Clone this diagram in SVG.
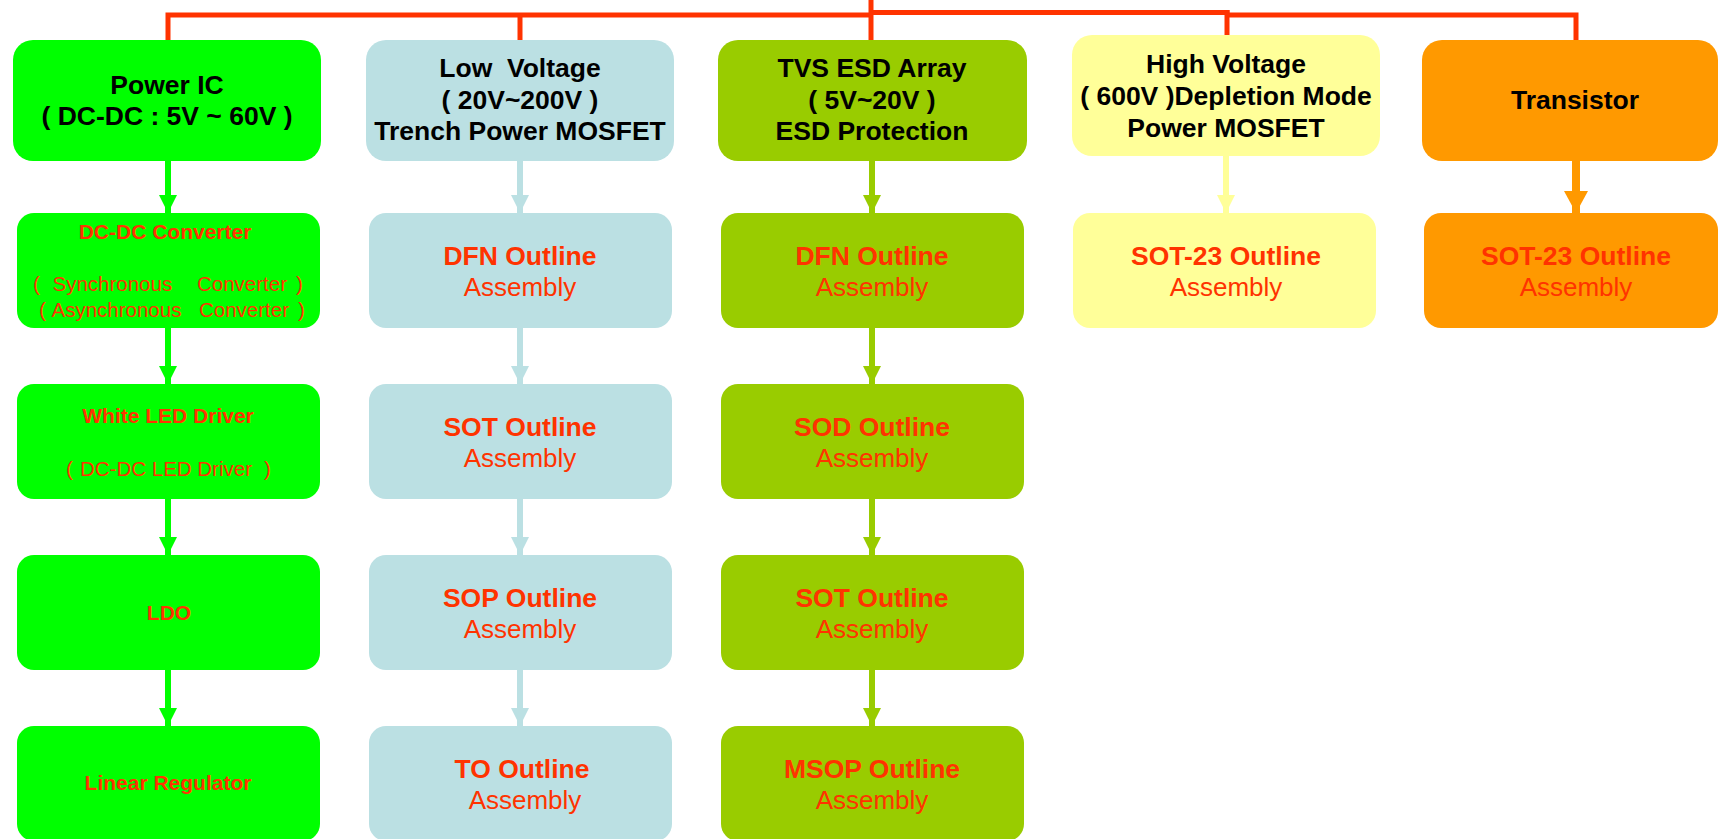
<svg xmlns="http://www.w3.org/2000/svg" width="1718" height="839" viewBox="0 0 1718 839">
<style>
text{font-family:"Liberation Sans",Arial,sans-serif;text-anchor:middle;white-space:pre}
.h{font-size:26.5px;font-weight:bold;fill:#000}
.o{font-size:26.5px;font-weight:bold;fill:#FF3300}
.a{font-size:26px;fill:#FF3300}
.s{font-size:21px;font-weight:bold;fill:#FF3300}
.r{font-size:20.5px;fill:#FF3300;text-anchor:start}
.tie{fill:none;stroke:#FF3300;stroke-width:5}
.c1{stroke:#00FF00;stroke-width:6}
.c2{stroke:#BBE0E3;stroke-width:6}
.c3{stroke:#99CC00;stroke-width:6}
.c4{stroke:#FFFF99;stroke-width:6}
.c5{stroke:#FF9900;stroke-width:8}
</style>
<defs>
<marker id="m1" markerUnits="userSpaceOnUse" markerWidth="18" markerHeight="18" refX="18" refY="9" orient="auto"><path d="M0,0 L18,9 L0,18 z" fill="#00FF00"/></marker>
<marker id="m2" markerUnits="userSpaceOnUse" markerWidth="18" markerHeight="18" refX="18" refY="9" orient="auto"><path d="M0,0 L18,9 L0,18 z" fill="#BBE0E3"/></marker>
<marker id="m3" markerUnits="userSpaceOnUse" markerWidth="18" markerHeight="18" refX="18" refY="9" orient="auto"><path d="M0,0 L18,9 L0,18 z" fill="#99CC00"/></marker>
<marker id="m4" markerUnits="userSpaceOnUse" markerWidth="18" markerHeight="18" refX="18" refY="9" orient="auto"><path d="M0,0 L18,9 L0,18 z" fill="#FFFF99"/></marker>
<marker id="m5" markerUnits="userSpaceOnUse" markerWidth="22" markerHeight="24" refX="22" refY="12" orient="auto"><path d="M0,0 L22,12 L0,24 z" fill="#FF9900"/></marker>
</defs>
<rect width="1718" height="839" fill="#fff"/>

<g id="connectors">
<path class="tie" d="M168,40 V15 H873"/>
<path class="tie" d="M871,0 V40"/>
<path class="tie" d="M871,12.5 H1229.5"/>
<path class="tie" d="M1227,10 V35"/>
<path class="tie" d="M1225,15 H1576 V40"/>
<path class="tie" d="M520,15 V40"/>

<g class="c1" marker-end="url(#m1)">
<line x1="168" y1="161" x2="168" y2="213"/>
<line x1="168" y1="328" x2="168" y2="384"/>
<line x1="168" y1="499" x2="168" y2="555"/>
<line x1="168" y1="670" x2="168" y2="726"/>
</g>
<g class="c2" marker-end="url(#m2)">
<line x1="520" y1="161" x2="520" y2="213"/>
<line x1="520" y1="328" x2="520" y2="384"/>
<line x1="520" y1="499" x2="520" y2="555"/>
<line x1="520" y1="670" x2="520" y2="726"/>
</g>
<g class="c3" marker-end="url(#m3)">
<line x1="872" y1="161" x2="872" y2="213"/>
<line x1="872" y1="328" x2="872" y2="384"/>
<line x1="872" y1="499" x2="872" y2="555"/>
<line x1="872" y1="670" x2="872" y2="726"/>
</g>
<g class="c4" marker-end="url(#m4)">
<line x1="1226" y1="156" x2="1226" y2="213"/>
</g>
<g class="c5" marker-end="url(#m5)">
<line x1="1576" y1="161" x2="1576" y2="213"/>
</g>
</g>

<g id="power-ic">
<rect x="13" y="40" width="308" height="121" rx="20" fill="#00FF00"/>
<text class="h" x="167" y="94">Power IC</text>
<text class="h" x="167" y="125">( DC-DC : 5V ~ 60V )</text>
</g>
<g id="low-voltage">
<rect x="366" y="40" width="308" height="121" rx="20" fill="#BBE0E3"/>
<text class="h" x="520" y="77">Low  Voltage</text>
<text class="h" x="520" y="109">( 20V~200V )</text>
<text class="h" x="520" y="140">Trench Power MOSFET</text>
</g>
<g id="tvs">
<rect x="718" y="40" width="309" height="121" rx="20" fill="#99CC00"/>
<text class="h" x="872" y="77">TVS ESD Array</text>
<text class="h" x="872" y="109">( 5V~20V )</text>
<text class="h" x="872" y="140">ESD Protection</text>
</g>
<g id="high-voltage">
<rect x="1072" y="35" width="308" height="121" rx="20" fill="#FFFF99"/>
<text class="h" x="1226" y="73">High Voltage</text>
<text class="h" x="1226" y="105">( 600V )Depletion Mode</text>
<text class="h" x="1226" y="137">Power MOSFET</text>
</g>
<g id="transistor">
<rect x="1422" y="40" width="296" height="121" rx="20" fill="#FF9900"/>
<text class="h" x="1575" y="109">Transistor</text>
</g>

<g id="dcdc-converter">
<rect x="17" y="213" width="303" height="115" rx="17" fill="#00FF00"/>
<text class="s" x="165" y="239">DC-DC Converter</text>
<text class="r" y="291"><tspan x="33">(</tspan><tspan x="52.5">Synchronous</tspan><tspan x="197">Converter</tspan><tspan x="296">)</tspan></text>
<text class="r" y="317"><tspan x="39">(</tspan><tspan x="51.5">Asynchronous</tspan><tspan x="199">Converter</tspan><tspan x="298">)</tspan></text>
</g>
<g id="white-led">
<rect x="17" y="384" width="303" height="115" rx="17" fill="#00FF00"/>
<text class="s" x="168" y="423">White LED Driver</text>
<text class="r" y="476"><tspan x="66">(</tspan><tspan x="80">DC-DC LED Driver</tspan><tspan x="264">)</tspan></text>
</g>
<g id="ldo">
<rect x="17" y="555" width="303" height="115" rx="17" fill="#00FF00"/>
<text class="s" x="169" y="620">LDO</text>
</g>
<g id="linear-regulator">
<rect x="17" y="726" width="303" height="115" rx="17" fill="#00FF00"/>
<text class="s" x="168" y="790">Linear Regulator</text>
</g>

<g id="lv-dfn">
<rect x="369" y="213" width="303" height="115" rx="17" fill="#BBE0E3"/>
<text class="o" x="520" y="265">DFN Outline</text>
<text class="a" x="520" y="296">Assembly</text>
</g>
<g id="lv-sot">
<rect x="369" y="384" width="303" height="115" rx="17" fill="#BBE0E3"/>
<text class="o" x="520" y="436">SOT Outline</text>
<text class="a" x="520" y="467">Assembly</text>
</g>
<g id="lv-sop">
<rect x="369" y="555" width="303" height="115" rx="17" fill="#BBE0E3"/>
<text class="o" x="520" y="607">SOP Outline</text>
<text class="a" x="520" y="638">Assembly</text>
</g>
<g id="lv-to">
<rect x="369" y="726" width="303" height="115" rx="17" fill="#BBE0E3"/>
<text class="o" x="522" y="778">TO Outline</text>
<text class="a" x="525" y="809">Assembly</text>
</g>

<g id="tvs-dfn">
<rect x="721" y="213" width="303" height="115" rx="17" fill="#99CC00"/>
<text class="o" x="872" y="265">DFN Outline</text>
<text class="a" x="872" y="296">Assembly</text>
</g>
<g id="tvs-sod">
<rect x="721" y="384" width="303" height="115" rx="17" fill="#99CC00"/>
<text class="o" x="872" y="436">SOD Outline</text>
<text class="a" x="872" y="467">Assembly</text>
</g>
<g id="tvs-sot">
<rect x="721" y="555" width="303" height="115" rx="17" fill="#99CC00"/>
<text class="o" x="872" y="607">SOT Outline</text>
<text class="a" x="872" y="638">Assembly</text>
</g>
<g id="tvs-msop">
<rect x="721" y="726" width="303" height="115" rx="17" fill="#99CC00"/>
<text class="o" x="872" y="778">MSOP Outline</text>
<text class="a" x="872" y="809">Assembly</text>
</g>

<g id="hv-sot23">
<rect x="1073" y="213" width="303" height="115" rx="17" fill="#FFFF99"/>
<text class="o" x="1226" y="265">SOT-23 Outline</text>
<text class="a" x="1226" y="296">Assembly</text>
</g>
<g id="tr-sot23">
<rect x="1424" y="213" width="294" height="115" rx="17" fill="#FF9900"/>
<text class="o" x="1576" y="265">SOT-23 Outline</text>
<text class="a" x="1576" y="296">Assembly</text>
</g>
</svg>
